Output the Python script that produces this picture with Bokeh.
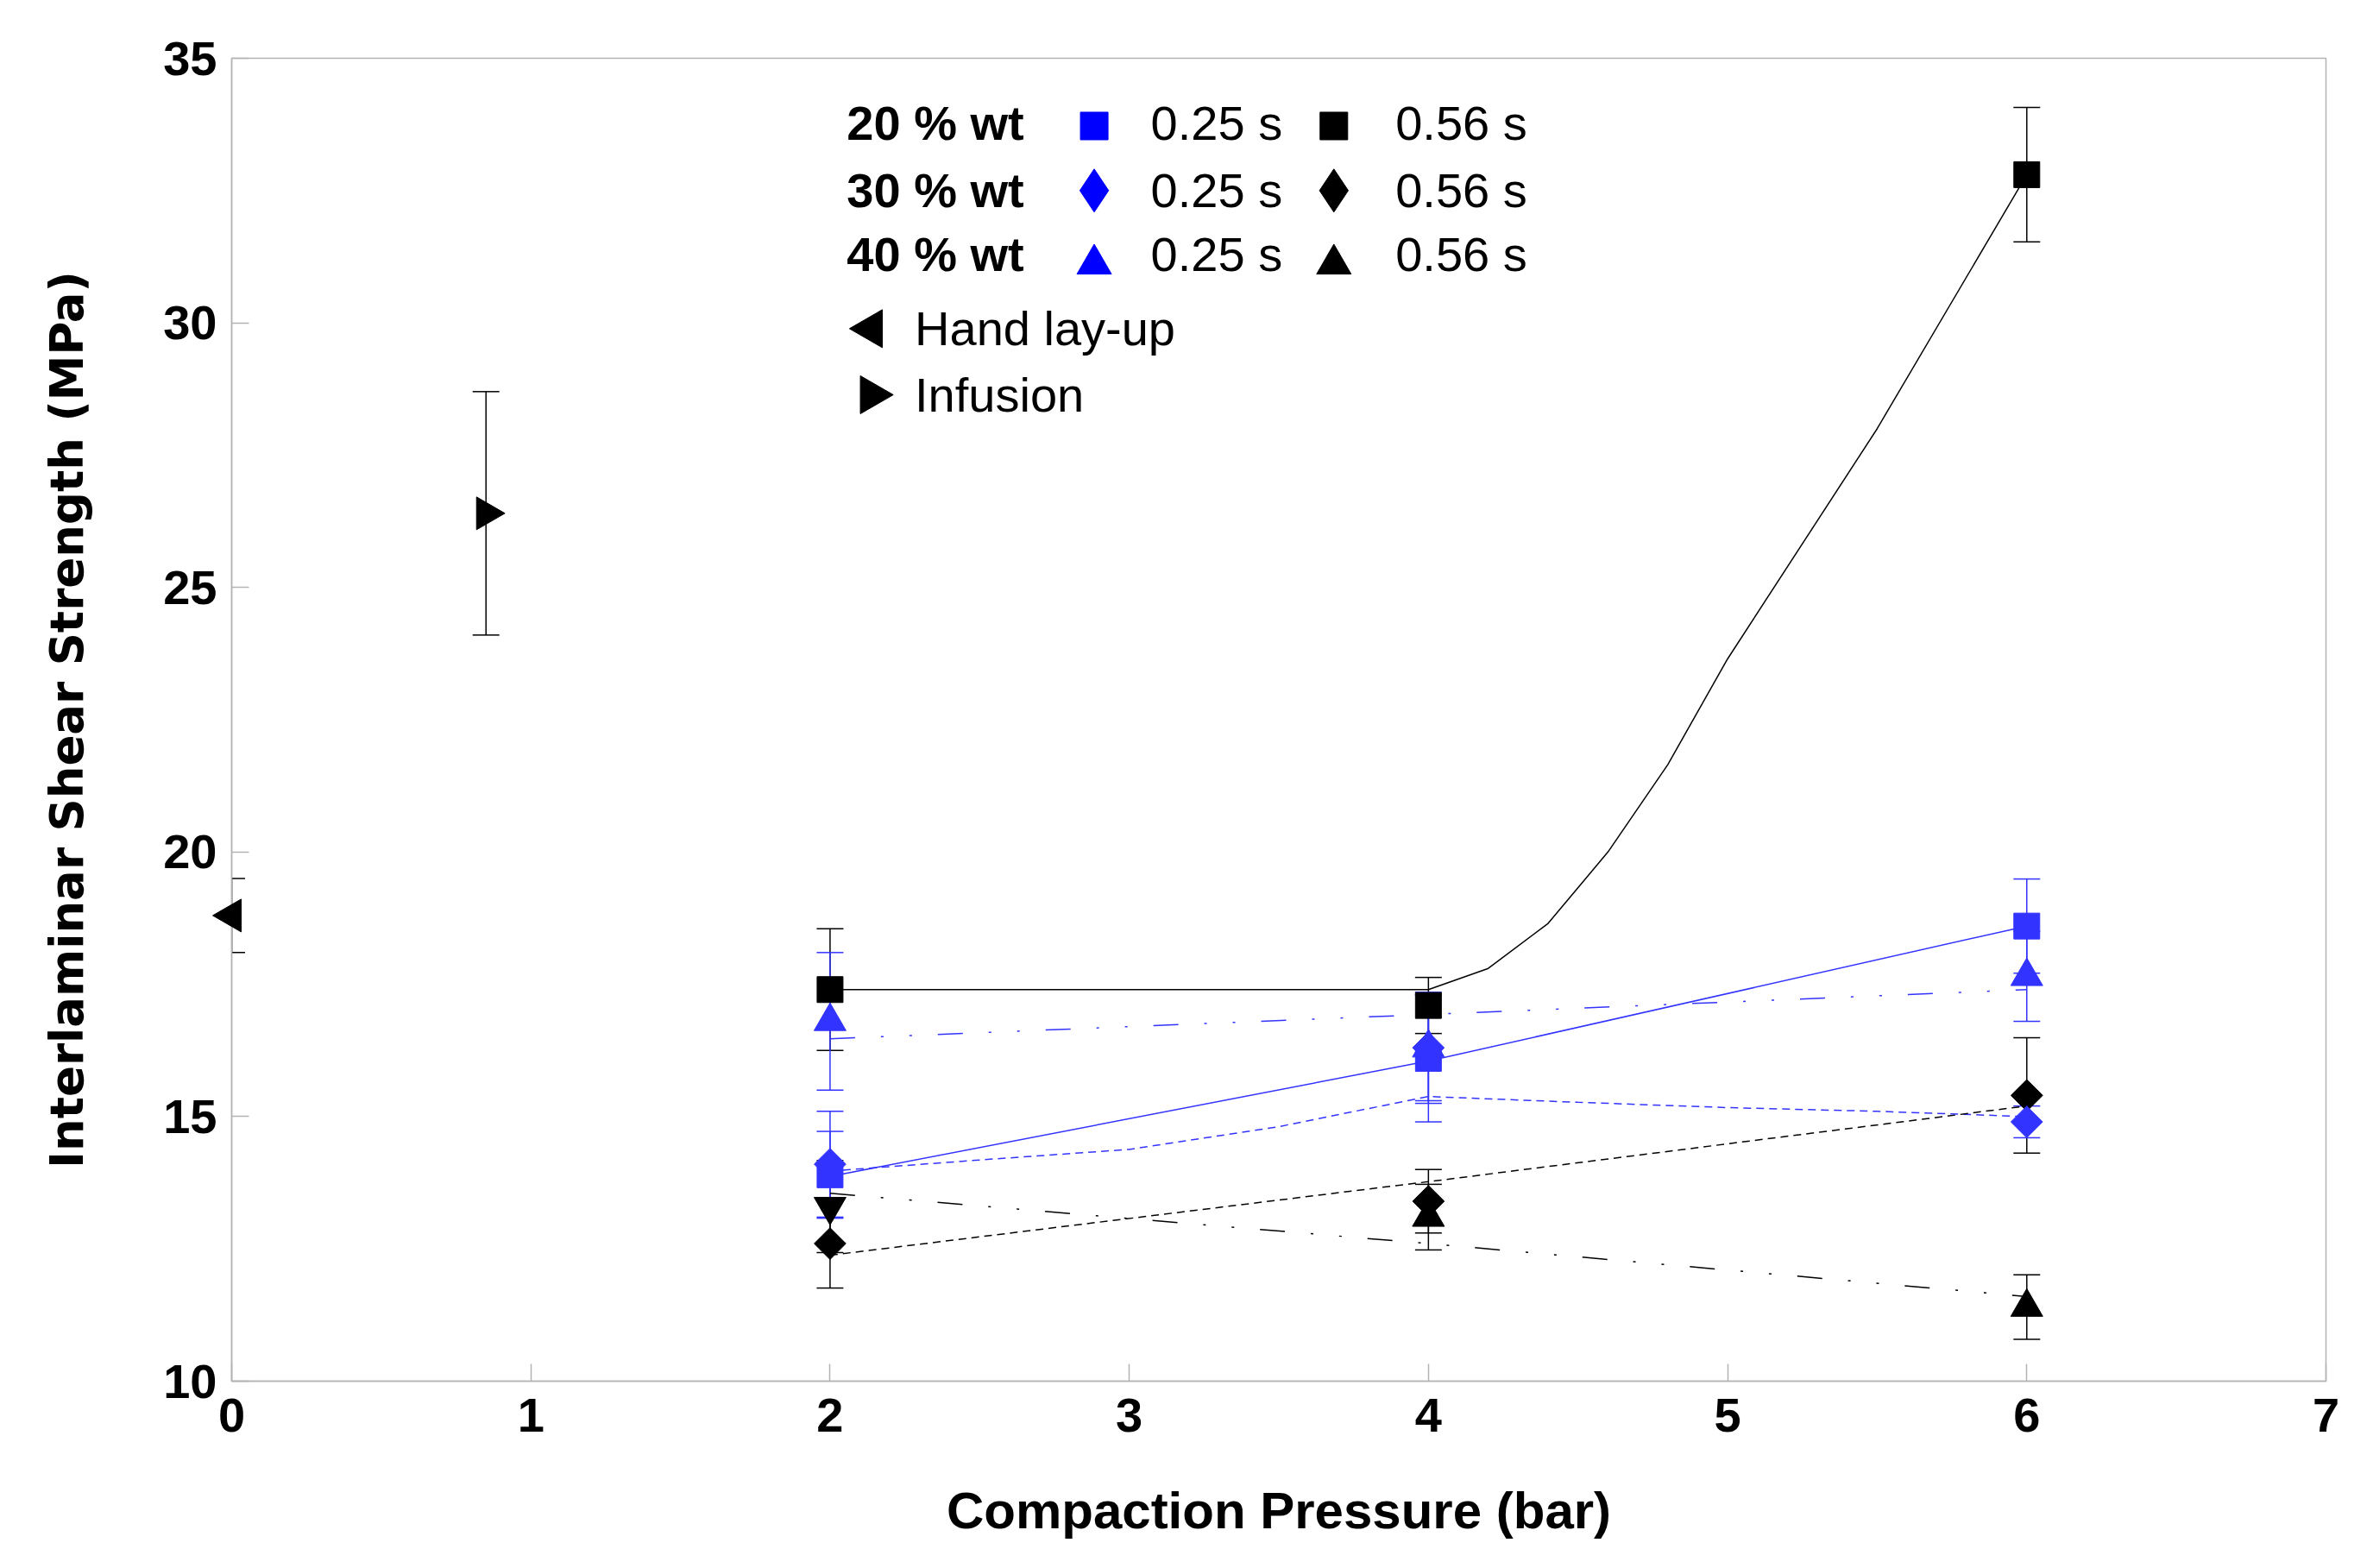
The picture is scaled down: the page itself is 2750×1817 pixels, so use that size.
import numpy as np
from bokeh.plotting import figure
from bokeh.models import Range1d, FixedTicker, Whisker, TeeHead, ColumnDataSource
from bokeh.core.properties import value
from bokeh.embed import file_html
from bokeh.resources import INLINE

# ---------------- data ----------------
pressure = [2, 4, 6]

ilss_20_025 = [13.9, 16.1, 18.6]
err_20_025 = [0.82, 1.2, 0.89]
ilss_20_056 = [17.4, 17.1, 32.8]
err_20_056 = [1.15, 0.53, 1.27]

ilss_30_025 = [14.1, 16.3, 14.9]
err_30_025 = [1.0, 1.05, 0.3]
ilss_30_056 = [12.6, 13.4, 15.4]
err_30_056 = [0.84, 0.6, 1.09]

ilss_40_025 = [16.8, 16.3, 17.65]
err_40_025 = [1.3, 1.0, 0.85]
ilss_40_056 = [13.3, 13.1, 11.4]
err_40_056 = [0.87, 0.62, 0.61]
markers_40_056 = ["inverted_triangle", "triangle", "triangle"]

hand_x = [0.0]
hand_y = [18.8]
hand_err = [0.7]

inf_x = [0.85]
inf_y = [26.4]
inf_err = [2.3]

# trend lines as drawn in the picture
trend_20_025_x = [2, 4, 6]
trend_20_025_y = [13.87, 16.05, 18.6]
trend_20_056_x = [2, 4, 4.2, 4.4, 4.6, 4.8, 5.0, 5.5, 6]
trend_20_056_y = [17.4, 17.4, 17.8, 18.65, 20.0, 21.65, 23.65, 28.0, 32.8]
trend_30_025_x = [2, 2.5, 3, 3.5, 4, 4.5, 5, 5.5, 6]
trend_30_025_y = [13.97, 14.18, 14.38, 14.81, 15.38, 15.27, 15.17, 15.1, 15.0]
trend_30_056_x = [2, 4, 6]
trend_30_056_y = [12.38, 13.77, 15.2]
trend_40_025_x = [2, 4, 6]
trend_40_025_y = [16.47, 16.93, 17.4]
trend_40_056_x = [2, 4, 6]
trend_40_056_y = [13.55, 12.6, 11.6]

x_ticks = [0, 1, 2, 3, 4, 5, 6, 7]
y_ticks = [10, 15, 20, 25, 30, 35]

legend_rows = ["20 % wt", "30 % wt", "40 % wt"]
legend_times = ["0.25 s", "0.56 s"]
legend_process = ["Hand lay-up", "Infusion"]

# ---------------- styling ----------------
BLUE = "#3333ff"
LEG_BLUE = "#0000ff"
BLACK = "#000000"
GRAY = "#b3b3b3"
FONT = "Liberation Sans"

p = figure(frame_width=2427, frame_height=1533,
           x_range=Range1d(0, 7), y_range=Range1d(10, 35),
           output_backend="svg", toolbar_location=None,
           min_border_left=268, min_border_top=67,
           min_border_right=40, min_border_bottom=200,
           background_fill_color="white", border_fill_color="white")

p.xgrid.visible = False
p.ygrid.visible = False
p.outline_line_color = GRAY
p.outline_line_width = 1.5

for ax in (p.xaxis, p.yaxis):
    ax.axis_line_color = GRAY
    ax.axis_line_width = 1.5
    ax.major_tick_line_color = GRAY
    ax.major_tick_line_width = 1.5
    ax.major_tick_in = 20
    ax.major_tick_out = 0
    ax.minor_tick_line_color = None
    ax.major_label_text_font = FONT
    ax.major_label_text_font_style = "bold"
    ax.major_label_text_font_size = "56px"
    ax.major_label_text_color = BLACK

p.xaxis.ticker = FixedTicker(ticks=x_ticks)
p.yaxis.ticker = FixedTicker(ticks=y_ticks)
p.xaxis.major_label_standoff = 20
p.yaxis.major_label_standoff = 17

p.xaxis.axis_label = "Compaction Pressure (bar)"
p.xaxis.axis_label_text_font = FONT
p.xaxis.axis_label_text_font_style = "bold"
p.xaxis.axis_label_text_font_size = "60px"
p.xaxis.axis_label_text_color = BLACK
p.xaxis.axis_label_standoff = 55

p.yaxis.axis_label = "Interlaminar Shear Strength (MPa)"
p.yaxis.axis_label_text_font = "DejaVu Sans"
p.yaxis.axis_label_text_font_style = "bold"
p.yaxis.axis_label_text_font_size = "53px"
p.yaxis.axis_label_text_color = BLACK
p.yaxis.axis_label_standoff = 78

# ---------------- trend lines ----------------
p.line(trend_20_025_x, trend_20_025_y, line_color=BLUE, line_width=1.5)
p.line(trend_20_056_x, trend_20_056_y, line_color=BLACK, line_width=1.5)
p.line(trend_30_025_x, trend_30_025_y, line_color=BLUE, line_width=1.5, line_dash="9 6")
p.line(trend_30_056_x, trend_30_056_y, line_color=BLACK, line_width=1.5, line_dash="9 6")
p.line(trend_40_025_x, trend_40_025_y, line_color=BLUE, line_width=1.5, line_dash="29 30 3 30 3 30")
p.line(trend_40_056_x, trend_40_056_y, line_color=BLACK, line_width=1.5, line_dash="29 30 3 30 3 30")

# ---------------- markers ----------------
DIAMOND_ANGLE = np.pi / 4
p.scatter(pressure, ilss_20_056, marker="square", size=30, color=BLACK)
p.scatter(pressure, ilss_30_056, marker="square", angle=DIAMOND_ANGLE, size=26, color=BLACK)
src40b = ColumnDataSource(dict(x=pressure, y=ilss_40_056, m=markers_40_056))
p.scatter("x", "y", marker="m", size=37, color=BLACK, source=src40b)

p.scatter(pressure, ilss_20_025, marker="square", size=30, color=BLUE)
p.scatter(pressure, ilss_40_025, marker="triangle", size=37, color=BLUE)
p.scatter(pressure, ilss_30_025, marker="square", angle=DIAMOND_ANGLE, size=26, color=BLUE)

p.scatter(hand_x, hand_y, marker="triangle", angle=np.pi / 2, size=38, color=BLACK, level="overlay")
p.scatter(inf_x, inf_y, marker="triangle", angle=-np.pi / 2, size=38, color=BLACK)


# ---------------- error bars ----------------
def add_err(xs, ys, es, color):
    src = ColumnDataSource(dict(base=list(xs),
                                upper=[y + e for y, e in zip(ys, es)],
                                lower=[y - e for y, e in zip(ys, es)]))
    w = Whisker(base="base", upper="upper", lower="lower", source=src,
                dimension="height", line_color=color, line_width=1.5,
                upper_head=TeeHead(size=31, line_color=color, line_width=1.5),
                lower_head=TeeHead(size=31, line_color=color, line_width=1.5))
    p.add_layout(w)


add_err(pressure, ilss_20_056, err_20_056, BLACK)
add_err(pressure, ilss_30_056, err_30_056, BLACK)
add_err(pressure, ilss_40_056, err_40_056, BLACK)
add_err(pressure, ilss_20_025, err_20_025, BLUE)
add_err(pressure, ilss_30_025, err_30_025, BLUE)
add_err(pressure, ilss_40_025, err_40_025, BLUE)
add_err(hand_x, hand_y, hand_err, BLACK)
add_err(inf_x, inf_y, inf_err, BLACK)

# ---------------- hand-made legend (layout positions in data space) ----------------
LEG_ROW_Y = [33.77, 32.51, 31.29]
LEG_MK_Y = [33.72, 32.50, 31.11]
LEG_PROC_Y = [29.89, 28.64]
LEG_X_LABEL = 2.056
LEG_X_MK = [2.883, 3.684]
LEG_X_TXT = [3.072, 3.890]
LEG_X_PMK = 2.138
LEG_X_PTXT = 2.283
leg_markers = ["square", "diamond", "triangle"]
leg_sizes = [32, 50, 40]

p.text(x=[LEG_X_LABEL] * 3, y=LEG_ROW_Y, text=legend_rows,
       text_font=value(FONT), text_font_style="bold", text_font_size="56px",
       text_baseline="middle", text_align="left", text_color=BLACK)
for j, col in enumerate([LEG_BLUE, BLACK]):
    p.text(x=[LEG_X_TXT[j]] * 3, y=LEG_ROW_Y, text=[legend_times[j]] * 3,
           text_font=value(FONT), text_font_size="56px",
           text_baseline="middle", text_align="left", text_color=BLACK)
    for i in range(3):
        p.scatter([LEG_X_MK[j]], [LEG_MK_Y[i]], marker=leg_markers[i],
                  size=leg_sizes[i], color=col)

p.scatter([LEG_X_PMK], [LEG_PROC_Y[0]], marker="triangle", angle=np.pi / 2, size=44, color=BLACK)
p.scatter([LEG_X_PMK], [LEG_PROC_Y[1]], marker="triangle", angle=-np.pi / 2, size=44, color=BLACK)
p.text(x=[LEG_X_PTXT] * 2, y=LEG_PROC_Y, text=legend_process,
       text_font=value(FONT), text_font_size="56px",
       text_baseline="middle", text_align="left", text_color=BLACK)

open("out.html", "w").write(file_html(p, INLINE))
